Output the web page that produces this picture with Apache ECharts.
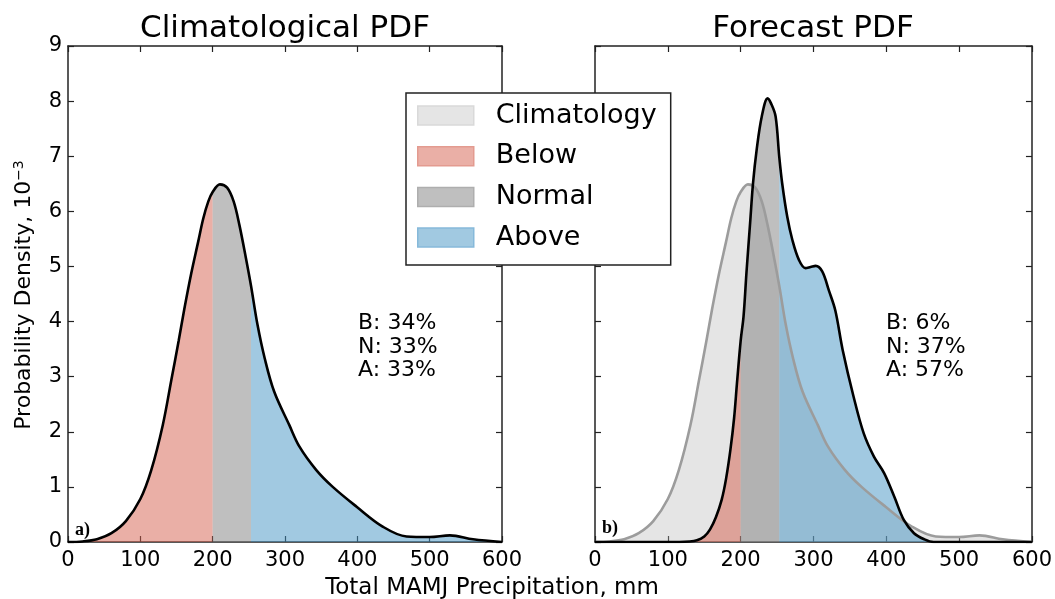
<!DOCTYPE html>
<html>
<head>
<meta charset="utf-8">
<script src="https://cdn.jsdelivr.net/npm/echarts@6/dist/echarts.min.js"></script>
<style>html,body{margin:0;padding:0;background:#fff}#c{width:1055px;height:599px}</style>
</head>
<body>
<div id="c"></div>
<script>
// ---- data (density values in units of 1e-3) ----
const climX = [0, 20, 40, 60, 80, 100, 115, 131, 143, 153, 161, 170, 180, 187, 194, 200, 210, 220, 229, 237, 246, 253, 262, 272, 285, 306, 320, 343, 366, 399, 435, 468, 500, 528, 560, 600];
const climY = [0, 0.01, 0.05, 0.16, 0.38, 0.78, 1.3, 2.12, 2.95, 3.65, 4.24, 4.85, 5.45, 5.87, 6.18, 6.35, 6.49, 6.43, 6.18, 5.75, 5.15, 4.65, 3.94, 3.33, 2.73, 2.12, 1.73, 1.31, 1.0, 0.64, 0.28, 0.10, 0.09, 0.12, 0.05, 0.0];
const fcX = [0, 100, 130, 140, 150, 158, 166, 174, 180, 186, 191, 195, 200, 204, 208, 213, 217, 222, 229, 237, 242, 248, 253, 257, 264, 271, 280, 289, 296, 303, 312, 321, 330, 340, 355, 369, 383, 397, 411, 424, 438, 452, 465, 600];
const fcY = [0, 0, 0.01, 0.03, 0.1, 0.23, 0.45, 0.77, 1.15, 1.68, 2.25, 2.89, 3.65, 4.1, 4.89, 5.79, 6.51, 7.12, 7.72, 8.05, 7.95, 7.72, 6.99, 6.51, 5.9, 5.48, 5.12, 4.97, 4.99, 5.01, 4.91, 4.57, 4.2, 3.49, 2.64, 1.97, 1.55, 1.25, 0.82, 0.40, 0.16, 0.05, 0, 0];
const lowerBound = 200;   // tercile boundaries (mm)
const upperBound = 253;
const climText = ['B: 34%', 'N: 33%', 'A: 33%'];
const fcText = ['B: 6%', 'N: 37%', 'A: 57%'];

const FONT = 'DejaVu Sans';
const pairs = (xs, ys) => xs.map((x, i) => [x, ys[i]]);
const slice = (xs, ys, lo, hi) => pairs(xs, ys).filter(p => p[0] >= lo && p[0] <= hi);

const C_BELOW = 'rgba(214,96,77,0.5)';
const C_NORMAL = 'rgba(128,128,128,0.5)';
const C_ABOVE = 'rgba(67,147,195,0.5)';
const C_CLIM = 'rgba(180,180,180,0.35)';

const grids = [
  {left: 68, top: 46, width: 434, height: 496},
  {left: 595, top: 46, width: 437, height: 496}
];
const axisLine = {show: true, onZero: false, lineStyle: {color: '#222', width: 1.5}};
const tick = {show: true, inside: true, length: 6, lineStyle: {color: '#222', width: 1.2}};

function xAx(g, pos, labels) {
  return {type: 'value', gridIndex: g, position: pos, min: 0, max: 600, interval: 100,
    axisLine, axisTick: tick, splitLine: {show: false},
    axisLabel: {show: labels, fontFamily: FONT, fontSize: 21, color: '#000', margin: 8}};
}
function yAx(g, pos, labels) {
  return {type: 'value', gridIndex: g, position: pos, min: 0, max: 9, interval: 1,
    axisLine, axisTick: tick, splitLine: {show: false},
    axisLabel: {show: labels, fontFamily: FONT, fontSize: 21, color: '#000', margin: 6}};
}

function area(name, data, color, xi, yi) {
  return {type: 'line', name, data, xAxisIndex: xi, yAxisIndex: yi, smooth: 0.35,
    symbol: 'none', showSymbol: false, color: color, lineStyle: {width: 0, color: color},
    areaStyle: {color: color, opacity: 1}, silent: true, z: 2};
}
function outline(name, data, color, xi, yi) {
  return {type: 'line', name, data, xAxisIndex: xi, yAxisIndex: yi, smooth: 0.35,
    symbol: 'none', showSymbol: false, lineStyle: {width: 2.6, color: color}, silent: true, z: 3};
}

const series = [
  area('Below', slice(climX, climY, 0, lowerBound), C_BELOW, 0, 0),
  area('Normal', slice(climX, climY, lowerBound, upperBound), C_NORMAL, 0, 0),
  area('Above', slice(climX, climY, upperBound, 600), C_ABOVE, 0, 0),
  outline('climLine', pairs(climX, climY), '#000', 0, 0),
  Object.assign(area('Climatology', pairs(climX, climY), C_CLIM, 1, 1), {lineStyle: {width: 2.6, color: '#9c9c9c'}}),
  area('Below', slice(fcX, fcY, 0, lowerBound), C_BELOW, 1, 1),
  area('Normal', slice(fcX, fcY, lowerBound, upperBound), C_NORMAL, 1, 1),
  area('Above', slice(fcX, fcY, upperBound, 600), C_ABOVE, 1, 1),
  outline('fcLine', pairs(fcX, fcY), '#000', 1, 1)
];

const txt = (x, y, text, size, extra) => ({type: 'text', x, y, z: 10,
  style: Object.assign({text, fontFamily: FONT, fontSize: size, fill: '#000'}, extra || {})});

const chart = echarts.init(document.getElementById('c'), null, {renderer: 'canvas'});
chart.setOption({
  animation: false,
  backgroundColor: '#fff',
  grid: grids,
  xAxis: [xAx(0, 'bottom', true), xAx(1, 'bottom', true), xAx(0, 'top', false), xAx(1, 'top', false)],
  yAxis: [yAx(0, 'left', true), yAx(1, 'left', false), yAx(0, 'right', false), yAx(1, 'right', false)],
  legend: {
    orient: 'vertical', left: 406, top: 93, z: 20,
    padding: [9, 14, 14, 11], itemWidth: 56, itemHeight: 19, itemGap: 13.7,
    backgroundColor: '#fff', borderColor: '#222', borderWidth: 1.5, borderRadius: 0,
    icon: 'rect', selectedMode: false,
    textStyle: {fontFamily: FONT, fontSize: 27, lineHeight: 26, color: '#000', padding: [0, 0, 0, 17]},
    data: [
      {name: 'Climatology', itemStyle: {color: '#e5e5e5', borderColor: '#d9d9d9', borderWidth: 1.5}},
      {name: 'Below', itemStyle: {color: '#eaafa6', borderColor: '#e39b90', borderWidth: 1.5}},
      {name: 'Normal', itemStyle: {color: '#bfbfbf', borderColor: '#aeaeae', borderWidth: 1.5}},
      {name: 'Above', itemStyle: {color: '#a1c9e1', borderColor: '#86b9da', borderWidth: 1.5}}
    ]
  },
  graphic: [
    txt(285, 29, 'Climatological PDF', 31, {align: 'center', verticalAlign: 'middle'}),
    txt(813, 29, 'Forecast PDF', 31, {align: 'center', verticalAlign: 'middle'}),
    txt(492, 588, 'Total MAMJ Precipitation, mm', 23, {align: 'center', verticalAlign: 'middle'}),
    txt(358, 347, climText.join('\n'), 22, {align: 'left', verticalAlign: 'middle', lineHeight: 23.5}),
    txt(886, 347, fcText.join('\n'), 22, {align: 'left', verticalAlign: 'middle', lineHeight: 23.5}),
    txt(75, 530, 'a)', 18, {fontFamily: 'Liberation Serif', fontWeight: 'bold', align: 'left', verticalAlign: 'middle'}),
    txt(602, 528, 'b)', 18, {fontFamily: 'Liberation Serif', fontWeight: 'bold', align: 'left', verticalAlign: 'middle'}),
    {type: 'text', x: 24, y: 295, rotation: Math.PI / 2, z: 10,
      style: {text: 'Probability Density, {n|10}{s|−3}', fontFamily: FONT, fontSize: 22, fill: '#000',
        align: 'center', verticalAlign: 'middle',
        rich: {n: {fontFamily: FONT, fontSize: 22, fill: '#000'},
               s: {fontFamily: FONT, fontSize: 14, fill: '#000', verticalAlign: 'top', padding: [0, 0, 10, 0]}}}}
  ],
  series
});
</script>
</body>
</html>
